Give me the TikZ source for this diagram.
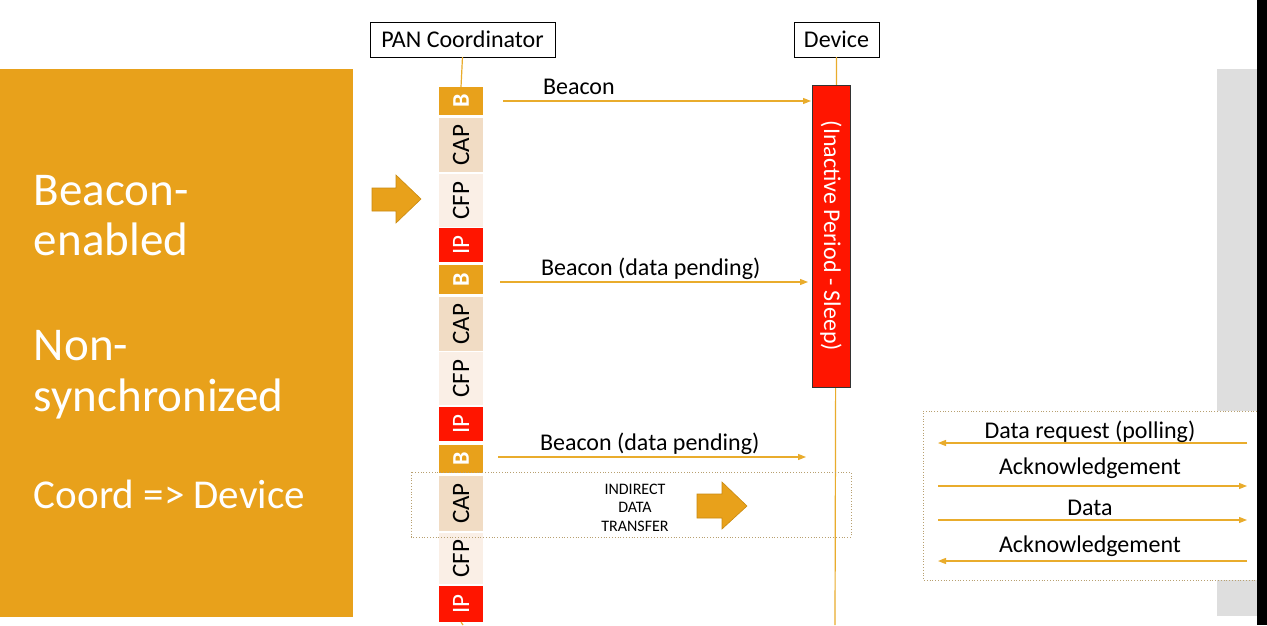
\documentclass[tikz,border=0pt]{standalone}
\usepackage{fontspec}
\setmainfont{Carlito}
\usetikzlibrary{arrows.meta}
\definecolor{org}{HTML}{E8A11B}
\definecolor{orgd}{HTML}{C98A10}
\definecolor{capc}{HTML}{F1DCC4}
\definecolor{cfpc}{HTML}{FAEFE6}
\definecolor{ipc}{HTML}{FF1500}
\definecolor{linec}{HTML}{E9AC2C}
\definecolor{grayc}{HTML}{DEDEDE}
\definecolor{dotc}{HTML}{B8A070}
\tikzset{
  every node/.style={inner sep=0pt, outer sep=0pt},
  slot/.style={rotate=90, minimum height=44pt, font=\fontsize{25}{25}\selectfont},
  slotB/.style={slot, fill=org, text=white, font=\bfseries\fontsize{24}{24}\selectfont},
  slotCAP/.style={slot, fill=capc, text=black},
  slotCFP/.style={slot, fill=cfpc, text=black},
  slotIP/.style={slot, fill=ipc, text=white},
  head/.style={draw=black, fill=white, line width=0.8pt, font=\fontsize{24}{24}\selectfont},
  life/.style={draw=linec, line width=1.2pt},
  msg/.style={draw=linec, line width=1.2pt, -{Triangle[length=8pt,width=6pt]}},
  lbl/.style={font=\fontsize{24}{24}\selectfont, anchor=base},
  big/.style={font=\fontsize{47}{47}\selectfont, text=white, anchor=base west},
  dotbox/.style={draw=dotc, dotted, line width=0.8pt},
}
\begin{document}
\begin{tikzpicture}[x=1pt,y=-1pt]
\useasboundingbox (0,0) rectangle (1267,625);
\fill[white] (0,0) rectangle (1267,625);
% right strips
\fill[grayc] (1217,69) rectangle (1257,616);
\fill[black] (1257,0) rectangle (1267,625);
% left panel
\fill[org] (0,69) rectangle (353,617);
\node[big] (t1) at (34,205) {Beacon-};
\node[big] (t2) at (34,255) {enabled};
\node[big] (t3) at (34,360) {Non-};
\node[big] (t4) at (34,411) {synchronized};
\node[big, font=\fontsize{41}{41}\selectfont] (t5) at (34,508) {Coord => Device};
% big arrow 1
\path[fill=org, draw=orgd, line width=0.6pt] (372,188) -- (396,188) -- (396,175) -- (421,199) -- (396,223) -- (396,211) -- (372,211) -- cycle;
% headers
\node[head, minimum width=185pt, minimum height=35pt] (pan) at (462.5,39.5) {PAN Coordinator};
\node[head, minimum width=85pt, minimum height=35pt] (dev) at (836.5,39.5) {Device};
% coordinator slots
\node[slotB,   minimum width=28pt] (b1) at (461,101) {B};
\node[slotCAP, minimum width=54pt] (cap1) at (461,145) {CAP};
\node[slotCFP, minimum width=53pt] (cfp1) at (461,200.5) {CFP};
\node[slotIP,  minimum width=34pt] (ip1) at (461,245) {IP};
\node[slotB,   minimum width=29pt] (b2) at (461,279.5) {B};
\node[slotCAP, minimum width=54pt] (cap2) at (461,324) {CAP};
\node[slotCFP, minimum width=53pt] (cfp2) at (461,378.5) {CFP};
\node[slotIP,  minimum width=34pt] (ip2) at (461,424) {IP};
\node[slotB,   minimum width=28pt] (b3) at (461,458.5) {B};
\node[slotCAP, minimum width=55pt] (cap3) at (461,503.5) {CAP};
\node[slotCFP, minimum width=51pt] (cfp3) at (461,558.5) {CFP};
\node[slotIP,  minimum width=36pt] (ip3) at (461,604) {IP};
\coordinate (pend) at (463,625);
\draw[life] (pan.south) -- (b1.east);
\draw[life] (ip3.west) -- (pend);
% device lifeline and sleep box
\coordinate (dend) at (835,625);
\draw[life] (dev.south) -- (dend);
\node[rotate=-90, fill=ipc, draw=black!80, line width=0.8pt, minimum width=302pt, minimum height=38pt, text=white, font=\fontsize{24}{24}\selectfont] (sleep) at (831,236) {(Inactive Period - Sleep)};
% beacons
\coordinate (s1) at (503,101); \coordinate (e1) at (811,101);
\coordinate (s2) at (500,282); \coordinate (e2) at (808,282);
\coordinate (s3) at (498,457); \coordinate (e3) at (806,457);
\draw[msg] (s1) -- (e1);
\draw[msg] (s2) -- (e2);
\draw[msg] (s3) -- (e3);
\node[lbl, anchor=base west] (l1) at (543,94) {Beacon};
\node[lbl, anchor=base west] (l2) at (541,275) {Beacon (data pending)};
\node[lbl, anchor=base west] (l3) at (540,450) {Beacon (data pending)};
% indirect data transfer box
\draw[dotbox] (411,472) rectangle (851,537);
\node[align=center, font=\fontsize{16}{18.5}\selectfont] (idt) at (635,507.5) {INDIRECT\\DATA\\TRANSFER};
\path[fill=org, draw=orgd, line width=0.6pt] (697,494) -- (722,494) -- (722,482) -- (747,506) -- (722,529) -- (722,518) -- (697,518) -- cycle;
% right box
\fill[white] (923,411) rectangle (1257,580);
\draw[dotbox] (1257,411) -- (923,411) -- (923,580) -- (1257,580);
\coordinate (r1a) at (1247,443); \coordinate (r1b) at (938,443);
\coordinate (r2a) at (938,486); \coordinate (r2b) at (1247,486);
\coordinate (r3a) at (938,520); \coordinate (r3b) at (1247,520);
\coordinate (r4a) at (1247,561); \coordinate (r4b) at (938,561);
\draw[msg] (r1a) -- (r1b);
\draw[msg] (r2a) -- (r2b);
\draw[msg] (r3a) -- (r3b);
\draw[msg] (r4a) -- (r4b);
\node[lbl] (rl1) at (1090,438) {Data request (polling)};
\node[lbl] (rl2) at (1090,474) {Acknowledgement};
\node[lbl] (rl3) at (1090,515) {Data};
\node[lbl] (rl4) at (1090,552) {Acknowledgement};
\end{tikzpicture}
\end{document}
